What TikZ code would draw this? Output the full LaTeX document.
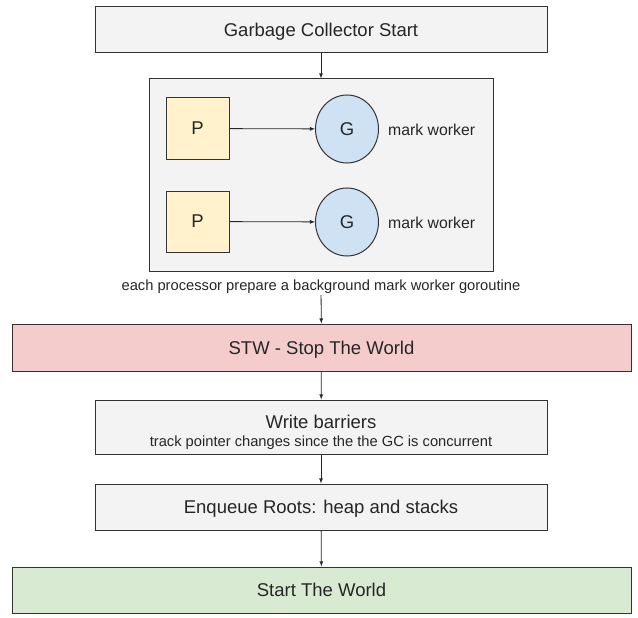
\documentclass[tikz,border=0pt]{standalone}
\usepackage{fontspec}
\setmainfont{Liberation Sans}
\usepackage{tikz}
\usetikzlibrary{shapes.geometric}
\definecolor{boxgray}{HTML}{F3F3F3}
\definecolor{stwred}{HTML}{F4CCCC}
\definecolor{procyellow}{HTML}{FFF2CC}
\definecolor{goblue}{HTML}{CFE2F3}
\definecolor{worldgreen}{HTML}{D9EAD3}
\definecolor{edgegray}{HTML}{333333}
\tikzstyle{stepbox} = [draw=edgegray, fill=boxgray, line width=1pt,
    rectangle, inner sep=0pt, text depth=0pt, text=black!85, font=\fontsize{18.5}{21}\selectfont]
\tikzstyle{procbox} = [stepbox, fill=procyellow, minimum width=63pt, minimum height=61pt]
\tikzstyle{worker} = [draw=edgegray, fill=goblue, line width=1pt, ellipse, inner sep=0pt,
    minimum width=63pt, minimum height=68pt, text depth=0pt, text=black!85, font=\fontsize{18.5}{21}\selectfont]
\tikzstyle{note} = [text=black!85, inner sep=1pt, font=\fontsize{14.7}{17}\selectfont]
\tikzstyle{flow} = [->, >=latex, line width=0.8pt, draw=black!85]

\begin{document}
\begin{tikzpicture}[x=1pt, y=-1pt]
                \useasboundingbox (0,0) rectangle (638,618);
                % gc start
                \node [stepbox, minimum width=452pt, minimum height=46pt] (gcstart) at (321,30) {Garbage Collector Start};
                % processors and their mark workers
                \node [stepbox, minimum width=344pt, minimum height=192pt] (procs) at (321,175) {};
                \node [procbox] (p1) at (197.5,128.5) {P};
                \node [procbox] (p2) at (197.5,221.5) {P};
                \node [worker] (g1) at (347,129) {G};
                \node [worker] (g2) at (347,222) {G};
                \node [note, anchor=west, font=\fontsize{15.8}{18}\selectfont] (mw1) at (387,130) {mark worker};
                \node [note, anchor=west, font=\fontsize{15.8}{18}\selectfont] (mw2) at (387,223) {mark worker};
                \node [note] (caption) at (321,287) {each processor prepare a background mark worker goroutine};
                % phases
                \node [stepbox, fill=stwred, minimum width=619pt, minimum height=47pt] (stw) at (321.5,347.5) {STW - Stop The World};
                \node [stepbox, minimum width=452pt, minimum height=54pt, align=center] (barriers) at (321,427) {\rule{0pt}{20pt}Write barriers\\[-3pt]{\fontsize{14.7}{17}\selectfont track pointer changes since the the GC is concurrent}};
                \node [stepbox, minimum width=452pt, minimum height=46pt] (roots) at (321,507) {Enqueue Roots: heap and stacks};
                \node [stepbox, fill=worldgreen, minimum width=619pt, minimum height=46pt] (stw2) at (321.5,590) {Start The World};

                \draw [flow] (gcstart) -- (procs);
                \draw [flow] (p1) -- (g1);
                \draw [flow] (p2) -- (g2);
                \draw [flow] (caption) -- (stw);
                \draw [flow] (stw) -- (barriers);
                \draw [flow] (barriers) -- (roots);
                \draw [flow] (roots) -- (stw2);
            \end{tikzpicture}
\end{document}
